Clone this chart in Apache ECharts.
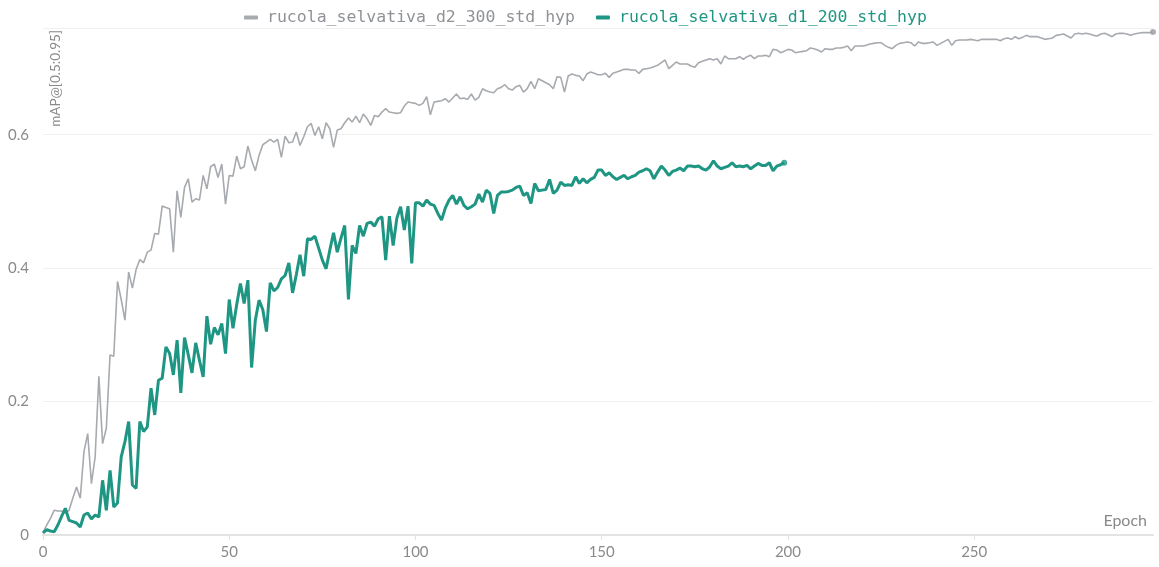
<!DOCTYPE html>
<html>
<head>
<meta charset="utf-8">
<script src="https://cdn.jsdelivr.net/npm/echarts@6/dist/echarts.min.js"></script>
<style>
  html, body { margin: 0; padding: 0; background: #fff; }
  #main-echart { width: 1159px; height: 567px; }
</style>
</head>
<body>
<div id="main-echart"></div>
<script>
// series names
const series_names = ['rucola_selvativa_d2_300_std_hyp', 'rucola_selvativa_d1_200_std_hyp'];

// x ticks (epochs)
const x_ticks = [0, 50, 100, 150, 200, 250];
const y_ticks = [0, 0.2, 0.4, 0.6];

// mAP per epoch, d2_300 (epochs 0..298)
const d2_values = [
  0.004, 0.015, 0.025, 0.037, 0.036, 0.036, 0.033, 0.037, 0.055, 0.072,
  0.055, 0.125, 0.152, 0.077, 0.117, 0.238, 0.137, 0.160, 0.270, 0.268,
  0.380, 0.353, 0.322, 0.394, 0.370, 0.398, 0.413, 0.408, 0.424, 0.427,
  0.452, 0.451, 0.493, 0.491, 0.489, 0.424, 0.516, 0.476, 0.521, 0.534,
  0.499, 0.504, 0.502, 0.539, 0.519, 0.552, 0.556, 0.536, 0.556, 0.496,
  0.539, 0.538, 0.568, 0.549, 0.552, 0.583, 0.562, 0.546, 0.569, 0.585,
  0.589, 0.593, 0.589, 0.593, 0.566, 0.598, 0.588, 0.589, 0.604, 0.584,
  0.597, 0.612, 0.617, 0.599, 0.612, 0.594, 0.618, 0.609, 0.581, 0.607,
  0.609, 0.618, 0.625, 0.619, 0.628, 0.618, 0.631, 0.624, 0.614, 0.629,
  0.627, 0.634, 0.639, 0.634, 0.633, 0.632, 0.633, 0.643, 0.649, 0.648,
  0.647, 0.644, 0.647, 0.657, 0.630, 0.649, 0.650, 0.651, 0.654, 0.649,
  0.655, 0.661, 0.654, 0.655, 0.653, 0.661, 0.652, 0.656, 0.669, 0.666,
  0.664, 0.663, 0.669, 0.671, 0.675, 0.669, 0.667, 0.672, 0.674, 0.664,
  0.669, 0.680, 0.669, 0.684, 0.681, 0.678, 0.675, 0.669, 0.687, 0.686,
  0.664, 0.688, 0.691, 0.689, 0.688, 0.681, 0.691, 0.694, 0.692, 0.690,
  0.690, 0.692, 0.686, 0.692, 0.694, 0.696, 0.698, 0.698, 0.697, 0.697,
  0.692, 0.698, 0.699, 0.700, 0.702, 0.704, 0.708, 0.712, 0.699, 0.704,
  0.709, 0.706, 0.706, 0.706, 0.703, 0.701, 0.708, 0.710, 0.712, 0.714,
  0.712, 0.714, 0.706, 0.718, 0.714, 0.714, 0.714, 0.717, 0.713, 0.717,
  0.719, 0.714, 0.718, 0.718, 0.719, 0.717, 0.728, 0.727, 0.723, 0.725,
  0.728, 0.727, 0.723, 0.724, 0.725, 0.726, 0.730, 0.729, 0.727, 0.724,
  0.729, 0.728, 0.728, 0.730, 0.730, 0.731, 0.733, 0.726, 0.733, 0.733,
  0.733, 0.734, 0.736, 0.737, 0.738, 0.738, 0.734, 0.731, 0.729, 0.734,
  0.737, 0.738, 0.739, 0.738, 0.733, 0.739, 0.737, 0.737, 0.738, 0.739,
  0.734, 0.737, 0.740, 0.743, 0.734, 0.741, 0.742, 0.742, 0.742, 0.743,
  0.742, 0.741, 0.743, 0.743, 0.743, 0.743, 0.743, 0.741, 0.744, 0.745,
  0.743, 0.747, 0.744, 0.746, 0.749, 0.747, 0.747, 0.747, 0.745, 0.743,
  0.744, 0.745, 0.749, 0.750, 0.751, 0.748, 0.745, 0.751, 0.752, 0.751,
  0.752, 0.751, 0.749, 0.748, 0.751, 0.752, 0.750, 0.747, 0.751, 0.752,
  0.752, 0.751, 0.749, 0.751, 0.752, 0.753, 0.753, 0.753, 0.754
];

// mAP per epoch, d1_200 (epochs 0..199)
const d1_values = [
  0.003, 0.008, 0.006, 0.005, 0.015, 0.028, 0.040, 0.022, 0.020, 0.018,
  0.012, 0.030, 0.033, 0.024, 0.030, 0.027, 0.082, 0.037, 0.097, 0.042,
  0.048, 0.117, 0.140, 0.170, 0.075, 0.070, 0.170, 0.155, 0.162, 0.220,
  0.180, 0.232, 0.235, 0.282, 0.272, 0.240, 0.292, 0.213, 0.296, 0.270,
  0.243, 0.288, 0.262, 0.237, 0.328, 0.286, 0.311, 0.300, 0.317, 0.272,
  0.353, 0.310, 0.345, 0.377, 0.347, 0.382, 0.251, 0.322, 0.352, 0.338,
  0.305, 0.378, 0.366, 0.371, 0.384, 0.389, 0.408, 0.363, 0.390, 0.420,
  0.388, 0.444, 0.443, 0.448, 0.430, 0.412, 0.399, 0.427, 0.453, 0.424,
  0.445, 0.464, 0.353, 0.434, 0.422, 0.464, 0.448, 0.467, 0.469, 0.463,
  0.474, 0.477, 0.412, 0.478, 0.434, 0.475, 0.492, 0.457, 0.493, 0.407,
  0.498, 0.498, 0.493, 0.502, 0.496, 0.494, 0.482, 0.472, 0.490, 0.502,
  0.509, 0.496, 0.507, 0.494, 0.489, 0.492, 0.496, 0.511, 0.499, 0.517,
  0.512, 0.482, 0.509, 0.514, 0.514, 0.515, 0.517, 0.521, 0.523, 0.509,
  0.513, 0.497, 0.527, 0.516, 0.517, 0.518, 0.533, 0.512, 0.517, 0.529,
  0.524, 0.525, 0.524, 0.537, 0.527, 0.534, 0.528, 0.533, 0.536, 0.547,
  0.547, 0.539, 0.543, 0.537, 0.533, 0.536, 0.539, 0.534, 0.537, 0.539,
  0.544, 0.546, 0.549, 0.546, 0.534, 0.544, 0.553, 0.547, 0.539, 0.545,
  0.547, 0.550, 0.546, 0.553, 0.553, 0.552, 0.553, 0.549, 0.547, 0.552,
  0.561, 0.553, 0.549, 0.551, 0.553, 0.558, 0.552, 0.553, 0.552, 0.554,
  0.549, 0.553, 0.557, 0.554, 0.554, 0.558, 0.546, 0.553, 0.555, 0.558
];

const gray = '#a7aaae';
const teal = '#1f9683';
const axis_font = 'Lato, "Open Sans", sans-serif';

try {
  let myChart = echarts.init(document.getElementById('main-echart'), null, { renderer: 'canvas' });

  const d2_data = d2_values.map((v, i) => [i, v]);
  const d1_data = d1_values.map((v, i) => [i, v]);
  const d2_last = d2_data[d2_data.length - 1];
  const d1_last = d1_data[d1_data.length - 1];

  let option = {
    animation: false,
    backgroundColor: '#fff',
    grid: { left: 43, right: 6, top: 28, bottom: 32, containLabel: false },
    legend: {
      top: 4,
      left: 239,
      data: [
        { name: series_names[0], textStyle: { color: '#8f9296' } },
        { name: series_names[1], textStyle: { color: teal } }
      ],
      itemWidth: 14,
      itemHeight: 4,
      itemGap: 21,
      icon: 'roundRect',
      textStyle: {
        fontFamily: '"DejaVu Sans Mono", monospace',
        fontSize: 16.5,
        padding: [0, 0, 0, 4]
      }
    },
    xAxis: {
      type: 'value',
      min: 0,
      max: 298,
      interval: 50,
      splitLine: { show: false },
      axisLine: { show: true, lineStyle: { color: '#e3e3e3', width: 2 } },
      axisTick: { show: true, length: 5, lineStyle: { color: '#e3e3e3' }, customValues: x_ticks },
      axisLabel: {
        color: '#8a8a8a', fontSize: 15, fontFamily: axis_font, margin: 10,
        customValues: x_ticks
      }
    },
    yAxis: {
      type: 'value',
      min: 0,
      max: 0.76,
      interval: 0.2,
      axisLine: { show: false },
      axisTick: { show: false },
      splitLine: { show: true, lineStyle: { color: '#f0f0f0', width: 1 } },
      axisLabel: {
        color: '#8a8a8a', fontSize: 15, fontFamily: axis_font, margin: 14,
        customValues: y_ticks,
        formatter: v => String(+v.toFixed(1))
      }
    },
    graphic: [
      {
        type: 'text',
        left: 49, top: 30,
        rotation: Math.PI / 2,
        style: { text: 'mAP@[0.5:0.95]', fill: '#8a8a8a', fontSize: 13.5, fontFamily: axis_font }
      },
      {
        type: 'text',
        right: 12, top: 513,
        style: { text: 'Epoch', fill: '#8a8a8a', fontSize: 16, fontFamily: axis_font }
      }
    ],
    series: [
      {
        name: series_names[0],
        type: 'line',
        data: d2_data,
        showSymbol: false,
        color: gray,
        lineStyle: { width: 1.6, color: gray },
        z: 2
      },
      {
        name: series_names[1],
        type: 'line',
        data: d1_data,
        showSymbol: false,
        color: teal,
        lineStyle: { width: 3, color: teal },
        z: 3
      },
      {
        type: 'scatter',
        data: [
          { value: d2_last, itemStyle: { color: '#999ca0' } },
          { value: d1_last, itemStyle: { color: teal } }
        ],
        symbolSize: 6,
        z: 4,
        silent: true
      }
    ]
  };

  myChart.setOption(option);
} catch (e) {
  console.log(e);
}
</script>
</body>
</html>
